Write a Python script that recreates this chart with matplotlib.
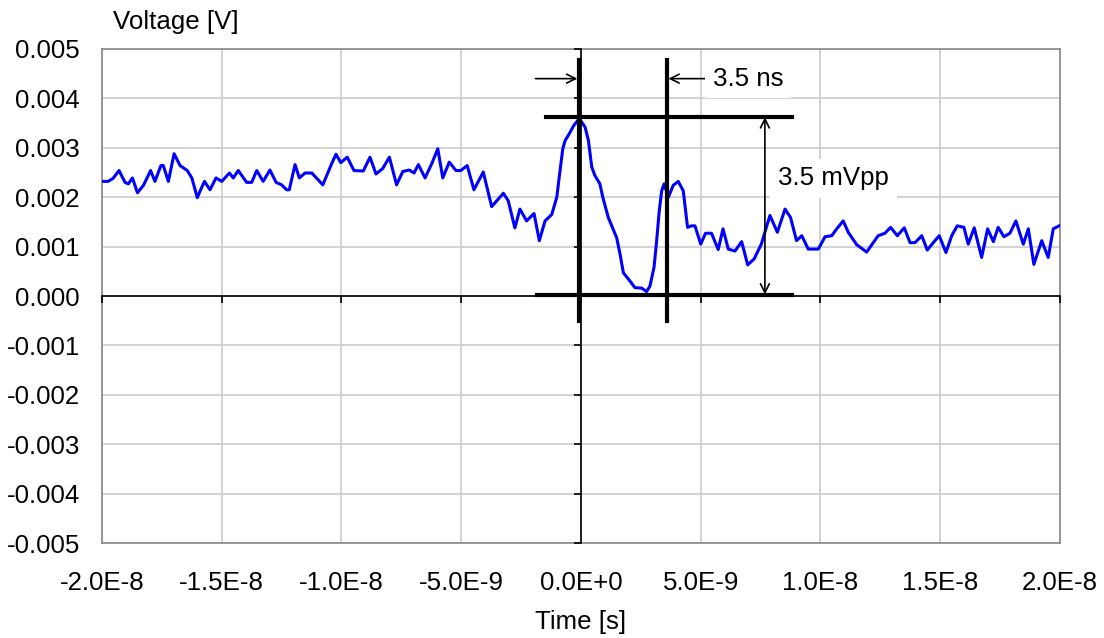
import numpy as np
import matplotlib
matplotlib.use('Agg')
import matplotlib.pyplot as plt
from matplotlib.ticker import FuncFormatter

plt.rcParams['font.family'] = ['Liberation Sans', 'DejaVu Sans']

# 波形データ (時間 ns, 電圧 mV) - 画像から読み取り
time_ns = np.array([
    -20.0, -19.75, -19.54, -19.29, -19.04, -18.9, -18.73, -18.52, -18.27, -17.97,
    -17.79, -17.54, -17.44, -17.23, -16.99, -16.74, -16.44, -16.25, -16.14, -16.02,
    -15.9, -15.72, -15.49, -15.24, -15.0, -14.68, -14.52, -14.31, -13.96, -13.75,
    -13.54, -13.27, -12.99, -12.73, -12.5, -12.29, -12.18, -11.94, -11.76, -11.52,
    -11.24, -10.78, -10.41, -10.23, -10.03, -9.76, -9.48, -9.09, -8.81, -8.56,
    -8.28, -8.0, -7.7, -7.44, -7.17, -6.97, -6.79, -6.51, -6.23, -5.98,
    -5.77, -5.5, -5.22, -5.02, -4.75, -4.47, -4.08, -3.73, -3.24, -3.04,
    -2.76, -2.55, -2.27, -1.96, -1.74, -1.5, -1.22, -1.01, -0.91, -0.76,
    -0.66, -0.53, -0.29, -0.07, 0.17, 0.31, 0.45, 0.58, 0.79, 0.91,
    1.14, 1.49, 1.63, 1.77, 2.05, 2.25, 2.53, 2.74, 2.88, 3.05,
    3.16, 3.27, 3.37, 3.47, 3.65, 3.85, 4.06, 4.27, 4.45, 4.62,
    4.76, 5.0, 5.2, 5.45, 5.73, 5.93, 6.15, 6.43, 6.71, 6.96,
    7.23, 7.53, 7.89, 8.2, 8.52, 8.75, 9.0, 9.22, 9.49, 9.91,
    10.19, 10.47, 10.68, 10.95, 11.16, 11.51, 11.93, 12.41, 12.69, 12.93,
    13.21, 13.5, 13.74, 13.95, 14.23, 14.46, 14.71, 14.96, 15.24, 15.48,
    15.71, 15.99, 16.17, 16.42, 16.73, 16.98, 17.22, 17.42, 17.66, 17.91,
    18.16, 18.47, 18.68, 18.91, 19.24, 19.51, 19.72, 19.97])
volt_mv = np.array([
    2.32, 2.32, 2.38, 2.54, 2.30, 2.27, 2.39, 2.09, 2.24, 2.54,
    2.32, 2.64, 2.64, 2.32, 2.88, 2.64, 2.54, 2.39, 2.20, 1.99,
    2.13, 2.32, 2.15, 2.39, 2.32, 2.49, 2.39, 2.54, 2.30, 2.30,
    2.54, 2.32, 2.55, 2.30, 2.25, 2.15, 2.15, 2.66, 2.39, 2.49,
    2.49, 2.25, 2.68, 2.87, 2.70, 2.81, 2.54, 2.53, 2.81, 2.47,
    2.58, 2.81, 2.25, 2.52, 2.55, 2.49, 2.66, 2.39, 2.68, 2.98,
    2.39, 2.71, 2.54, 2.54, 2.64, 2.15, 2.51, 1.81, 2.08, 1.93,
    1.38, 1.76, 1.52, 1.67, 1.12, 1.52, 1.65, 2.00, 2.40, 2.98,
    3.15, 3.25, 3.46, 3.59, 3.42, 3.15, 2.61, 2.44, 2.27, 2.00,
    1.59, 1.18, 0.85, 0.47, 0.30, 0.17, 0.16, 0.09, 0.20, 0.58,
    1.12, 1.73, 2.13, 2.27, 2.00, 2.24, 2.32, 2.13, 1.39, 1.42,
    1.42, 1.05, 1.27, 1.27, 0.94, 1.36, 0.95, 0.91, 1.10, 0.63,
    0.75, 1.05, 1.63, 1.29, 1.76, 1.59, 1.12, 1.22, 0.95, 0.95,
    1.20, 1.22, 1.36, 1.52, 1.29, 1.04, 0.89, 1.22, 1.27, 1.39,
    1.22, 1.38, 1.08, 1.08, 1.22, 0.93, 1.08, 1.22, 0.88, 1.22,
    1.42, 1.39, 1.05, 1.38, 0.78, 1.36, 1.10, 1.39, 1.20, 1.27,
    1.52, 1.05, 1.36, 0.64, 1.12, 0.78, 1.36, 1.42])

# 目盛り
xticks_ns = [-20, -15, -10, -5, 0, 5, 10, 15, 20]
yticks_mv = [-5, -4, -3, -2, -1, 0, 1, 2, 3, 4, 5]

# 測定マーカー (ns, mV)
peak_mv = 3.62
base_mv = 0.03
mark_t_ns = [-0.08, 3.58]
mark_v_range = [-0.51, 4.78]
top_line_ns = [-1.45, 8.8]
base_line_ns = [-1.85, 8.8]
arrow_v_mv = 4.40
vpp_t_ns = 7.68

FS = 18.6


def fmt_x(v, pos):
    mant, exp = f"{v:.1E}".split('E')
    return f"{mant}E{exp[0]}{int(exp[1:])}"


def fmt_y(v, pos):
    s = f"{v:.3f}"
    return "0.000" if s == "-0.000" else s


rect = [0.0924, 0.1489, 0.8677, 0.7743]
fig = plt.figure(figsize=(11.04, 6.38), dpi=100)
ax = fig.add_axes(rect)

ax.plot(time_ns * 1e-9, volt_mv * 1e-3, color='#0000ff', lw=2.2, zorder=3,
        solid_joinstyle='round')
ax.set_xlim(-2e-8, 2e-8)
ax.set_ylim(-0.005, 0.005)
ax.set_xticks([x * 1e-9 for x in xticks_ns])
ax.set_yticks([y * 1e-3 for y in yticks_mv])
ax.xaxis.set_major_formatter(FuncFormatter(fmt_x))
ax.yaxis.set_major_formatter(FuncFormatter(fmt_y))
ax.grid(True, color='#cccccc', lw=1.2)
ax.tick_params(axis='both', length=0, labelsize=FS)
ax.tick_params(axis='y', pad=16)
ax.tick_params(axis='x', pad=20)
for s in ax.spines.values():
    s.set_color('#888888')
    s.set_linewidth(1.2)

ax.set_ylabel('Voltage [V]', rotation=0, fontsize=FS, ha='center', va='center')
ax.yaxis.set_label_coords(0.077, 1.055)
ax.set_xlabel('Time [s]', fontsize=FS, va='center')
ax.xaxis.set_label_coords(0.5, -0.16)

# マーカー線
for t in mark_t_ns:
    ax.plot([t * 1e-9, t * 1e-9], [mark_v_range[0] * 1e-3, mark_v_range[1] * 1e-3],
            color='k', lw=3, zorder=4)
ax.plot([top_line_ns[0] * 1e-9, top_line_ns[1] * 1e-9], [peak_mv * 1e-3] * 2, color='k', lw=3, zorder=4)
ax.plot([base_line_ns[0] * 1e-9, base_line_ns[1] * 1e-9], [base_mv * 1e-3] * 2, color='k', lw=3, zorder=4)

arrow = dict(arrowstyle='->', color='k', lw=1.2, shrinkA=0, shrinkB=0, mutation_scale=16)
ax.annotate('', xy=(-0.15e-9, arrow_v_mv * 1e-3), xytext=(-1.9e-9, arrow_v_mv * 1e-3), arrowprops=arrow)
ax.annotate('', xy=(3.65e-9, arrow_v_mv * 1e-3), xytext=(5.25e-9, arrow_v_mv * 1e-3), arrowprops=arrow)
ax.text(5.5e-9, arrow_v_mv * 1e-3, '3.5 ns', fontsize=FS, va='center', ha='left',
        bbox=dict(boxstyle='square,pad=0.3', fc='white', ec='none'), zorder=5)

ax.annotate('', xy=(vpp_t_ns * 1e-9, base_mv * 1e-3), xytext=(vpp_t_ns * 1e-9, peak_mv * 1e-3),
            arrowprops=dict(arrowstyle='<->', color='k', lw=1.2, shrinkA=0, shrinkB=0, mutation_scale=16))
ax.text(8.23e-9, 2.38e-3, '3.5 mVpp', fontsize=FS, va='center', ha='left',
        bbox=dict(boxstyle='square,pad=0.3', fc='white', ec='none'), zorder=5)

# ゼロ位置の軸 (目盛り付き)
ax0 = fig.add_axes(rect)
ax0.patch.set_visible(False)
ax0.set_xlim(-2e-8, 2e-8)
ax0.set_ylim(-0.005, 0.005)
ax0.set_xticks([x * 1e-9 for x in xticks_ns])
ax0.set_yticks([y * 1e-3 for y in yticks_mv])
ax0.spines['top'].set_visible(False)
ax0.spines['right'].set_visible(False)
ax0.spines['left'].set_position(('data', 0))
ax0.spines['bottom'].set_position(('data', 0))
for k in ['left', 'bottom']:
    ax0.spines[k].set_color('k')
    ax0.spines[k].set_linewidth(1.2)
ax0.tick_params(direction='out', length=5, width=1.2, labelleft=False, labelbottom=False)

fig.savefig('out.png', dpi=100, facecolor='white')
